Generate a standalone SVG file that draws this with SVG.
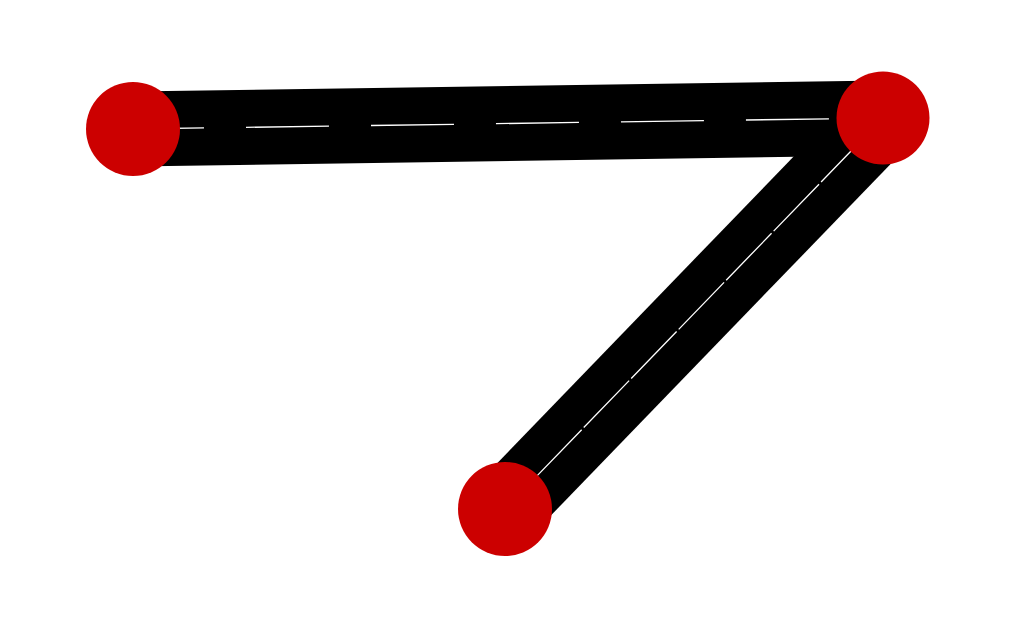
<svg xmlns="http://www.w3.org/2000/svg" width="1023" height="627" viewBox="0 0 1023 627">
<style>
.band{stroke:#000;stroke-width:75;fill:none;stroke-linecap:butt}
.mid{stroke:#fff;stroke-width:1.3;fill:none}
.node{fill:#cc0000}
</style>
<rect width="1023" height="627" fill="#fff"/>
<g id="connectors">
<g id="edge-a-b">
<line class="band" x1="133" y1="129" x2="883" y2="118"/>
<line class="mid" x1="133" y1="129" x2="883" y2="118" stroke-dasharray="83 42" stroke-dashoffset="12"/>
</g>
<g id="edge-c-b">
<line class="band" x1="505" y1="509" x2="883" y2="118"/>
<line class="mid" x1="505" y1="509" x2="883" y2="118" stroke-dasharray="65.3 3" stroke-dashoffset="23.3"/>
</g>
</g>
<g id="node-a"><circle class="node" cx="133" cy="129" r="47"/></g>
<g id="node-b"><circle class="node" cx="883" cy="118" r="46.5"/></g>
<g id="node-c"><circle class="node" cx="505" cy="509" r="47"/></g>
</svg>
